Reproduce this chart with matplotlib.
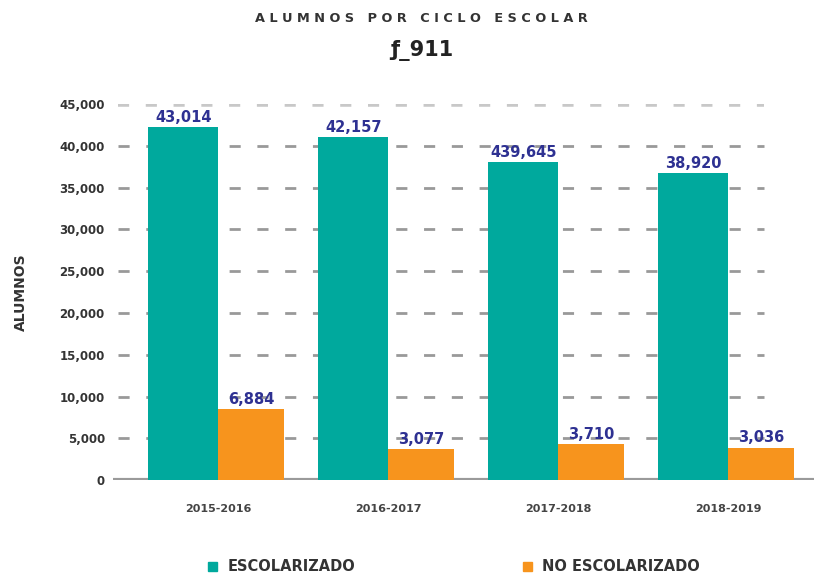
import matplotlib.pyplot as plt
import numpy as np
from matplotlib.patches import Rectangle

# data
ciclos = ["2015-2016", "2016-2017", "2017-2018", "2018-2019"]
escolarizado = [42200, 41100, 38100, 36700]
no_escolarizado = [8500, 3700, 4300, 3900]
etiquetas_esc = ["43,014", "42,157", "439,645", "38,920"]
etiquetas_no = ["6,884", "3,077", "3,710", "3,036"]
yticks = [0, 5000, 10000, 15000, 20000, 25000, 30000, 35000, 40000, 45000]

teal = "#00a99d"
orange = "#f7941d"
label_col = "#2e3192"
text_col = "#333333"

plt.rcParams['font.family'] = ['DejaVu Sans']

fig = plt.figure(figsize=(8.14, 5.75), dpi=100)
ax = fig.add_axes([0.139, 0.165, 0.861, 0.654])

x = np.arange(len(ciclos))
w_esc, w_no = 0.41, 0.39
ax.bar(x, escolarizado, -w_esc, align="edge", color=teal, zorder=3)
ax.bar(x, no_escolarizado, w_no, align="edge", color=orange, zorder=3)

for xi, v, t in zip(x, escolarizado, etiquetas_esc):
    ax.text(xi - w_esc / 2, v + 250, t, ha="center", va="bottom", color=label_col,
            fontsize=10.5, fontweight="bold", zorder=4)
for xi, v, t in zip(x, no_escolarizado, etiquetas_no):
    ax.text(xi + w_no / 2, v + 250, t, ha="center", va="bottom", color=label_col,
            fontsize=10.5, fontweight="bold", zorder=4)

ax.set_xlim(-0.618, 3.506)
ax.set_ylim(0, 45000)
ax.set_yticks(yticks)
ax.set_yticklabels([f"{v:,}" for v in yticks], fontsize=8.5, fontweight="bold", color=text_col)
ax.set_xticks(x)
ax.set_xticklabels(ciclos, fontsize=8, fontweight="bold", color="#444444")
ax.tick_params(axis="both", length=0)
ax.tick_params(axis="x", pad=17)
ax.tick_params(axis="y", pad=6)

ax.hlines(yticks[1:-1], -0.588, 3.212, color="#999999", lw=2.0, linestyles=(0, (4, 6)),
          zorder=1)
ax.hlines(yticks[-1], -0.588, 3.212, color="#c8c8c8", lw=4, linestyles=(0, (2.0, 3.0)),
          zorder=1)
ax.axhline(0, color="#9a9a9a", lw=3, zorder=2)

for s in ax.spines.values():
    s.set_visible(False)

ax.set_ylabel("ALUMNOS", fontsize=10, fontweight="bold", color=text_col)
ax.yaxis.set_label_coords(-0.121, 0.5)

fig.text(0.518, 0.968, "A L U M N O S   P O R   C I C L O   E S C O L A R", ha="center",
         va="center", fontsize=9.3, fontweight="bold", color=text_col)
fig.text(0.518, 0.912, "ƒ_911", ha="center", va="center", fontsize=15,
         fontweight="bold", color="#222222")

# legend
for xs, col, lab in [(0.256, teal, "ESCOLARIZADO"), (0.642, orange, "NO ESCOLARIZADO")]:
    fig.patches.append(Rectangle((xs, 0.007), 0.011, 0.016, transform=fig.transFigure,
                                 color=col, figure=fig))
    fig.text(xs + 0.024, 0.015, lab, ha="left", va="center", fontsize=10.5,
             fontweight="bold", color=text_col)

fig.savefig("out.png", dpi=100)
